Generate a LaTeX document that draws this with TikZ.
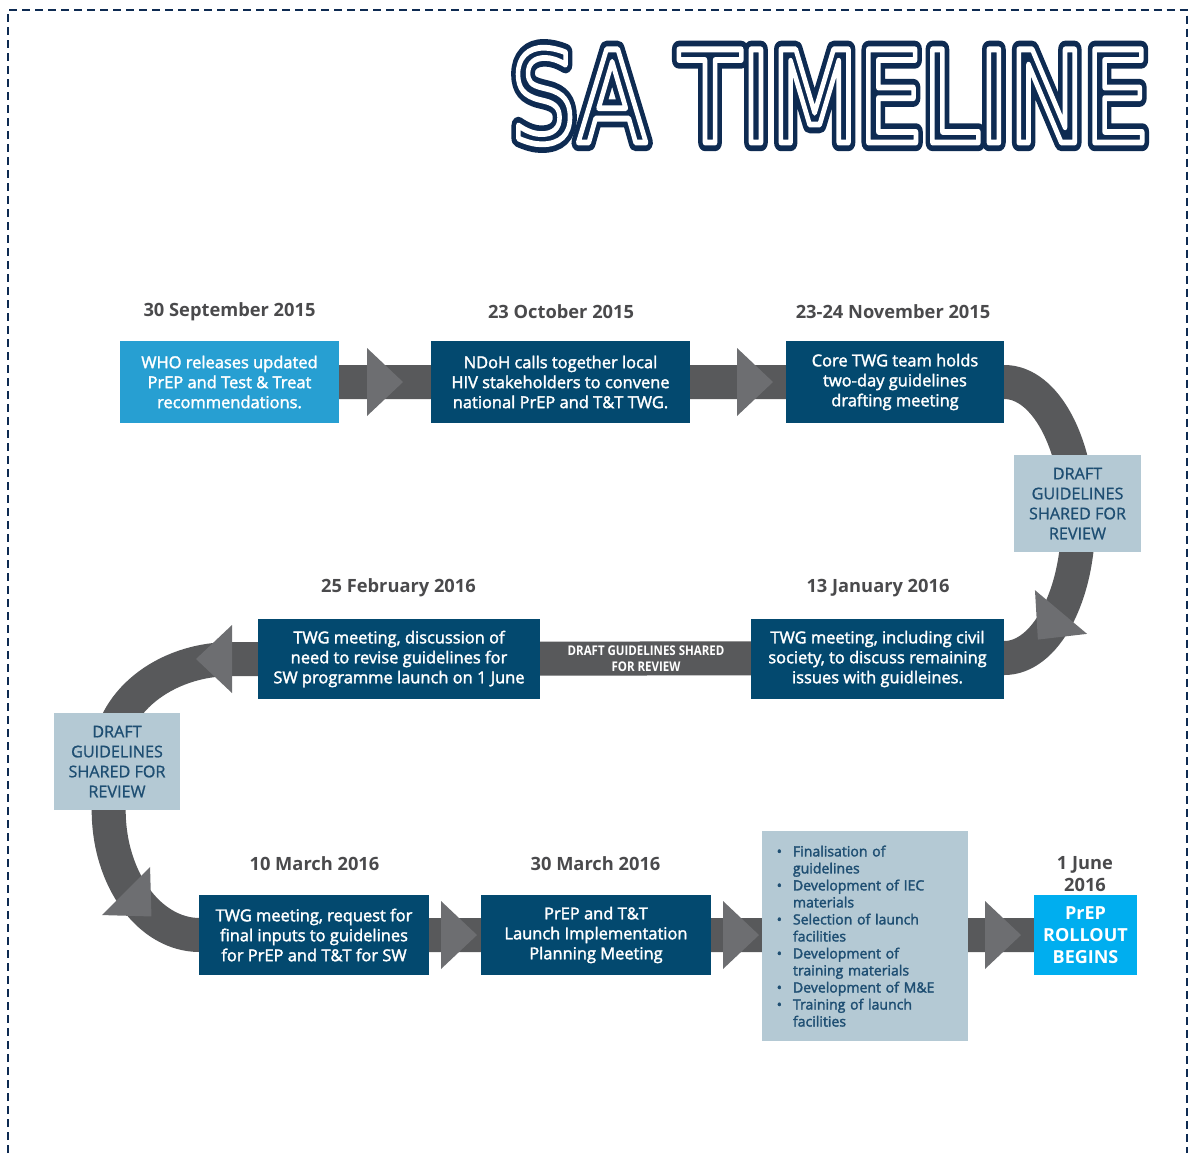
\documentclass[tikz,border=0pt]{standalone}
\usepackage{fontspec}
\usepackage{xcolor}
\usetikzlibrary{backgrounds}
\setmainfont{Open Sans}
\newfontfamily\titlefont{DejaVu Sans}
\newfontfamily\semifont{Open Sans}[FakeBold=2]
\newfontfamily\draftfont{Open Sans}[FakeBold=1]

\definecolor{skyblue}{HTML}{279FD2}
\definecolor{deepnavy}{HTML}{03496F}
\definecolor{paleblue}{HTML}{B4C9D4}
\definecolor{brightcyan}{HTML}{00AEEF}
\definecolor{trackgray}{HTML}{58595B}
\definecolor{headgray}{HTML}{6D6E71}
\definecolor{dategray}{HTML}{4A4A4C}
\definecolor{draftnavy}{HTML}{1E4E72}
\definecolor{titlenavy}{HTML}{0E2B52}

% three parallel strokes for the heading letters
\newcommand{\triplelines}[1]{%
  \leavevmode\rlap{\color{titlenavy}\special{pdf:literal direct 2 Tr 13.5 w 1 j}#1\special{pdf:literal direct 0 Tr}}%
  {\color{white}\special{pdf:literal direct 1 Tr 4.5 w 1 j}#1\special{pdf:literal direct 0 Tr}}}

\tikzset{
  event/.style={fill=deepnavy, text=white, align=center, inner sep=0pt,
    minimum height=2cm, font=\semifont\fontsize{11.7}{14.2}\selectfont},
  date/.style={text=dategray, align=center, font=\bfseries\fontsize{13}{15.6}\selectfont},
  draft/.style={fill=paleblue, text=draftnavy, align=center, inner sep=0pt,
    minimum width=3.175cm, minimum height=2.425cm, font=\draftfont\fontsize{11.5}{14.2}\selectfont},
  tasks/.style={fill=paleblue, text=draftnavy, inner sep=0pt, text width=4.6cm,
    minimum width=5.15cm, minimum height=5.25cm, font=\semifont\fontsize{10}{12.1}\selectfont},
  track/.style={draw=trackgray, line width=0.85cm, line join=round},
  head/.style={fill=headgray}
}

\begin{document}
\begin{tikzpicture}[x=0.025cm, y=-0.025cm]
  \useasboundingbox (0,0) rectangle (1188,1153);
  % frame, open at the bottom
  \draw[titlenavy, line width=1.4pt, dash pattern=on 0.2cm off 0.125cm]
    (8,1153) -- (8,10) -- (1187,10) -- (1187,1153);
  % heading
  \node[inner sep=0pt] (heading) at (830,96)
    {\resizebox{15.93cm}{2.37cm}{\titlefont\fontsize{100}{100}\selectfont\triplelines{SA TIMELINE}}};

  % first row
  \node[date] (sep15) at (229.5,312) {30 September 2015};
  \node[date] (oct15) at (561,312) {23 October 2015};
  \node[date] (nov15) at (893,312) {23-24 November 2015};
  \node[event, fill=skyblue, minimum width=5.475cm, minimum height=2.05cm] (who) at (229.5,382)
    {WHO releases updated\\PrEP and Test \& Treat\\recommendations.};
  \node[event, minimum width=6.475cm, minimum height=2.05cm] (ndoh) at (560.5,382)
    {NDoH calls together local\\HIV stakeholders to convene\\national PrEP and T\&T TWG.};
  \node[event, minimum width=5.45cm, minimum height=2.05cm] (core) at (895,382)
    {Core TWG team holds\\two-day guidelines\\drafting meeting};
  \node[draft] (reviewA) at (1077.5,503.5) {DRAFT\\GUIDELINES\\SHARED FOR\\REVIEW};

  % second row
  \node[date] (jan16) at (878,588) {13 January 2016};
  \node[date] (feb16) at (398.5,588) {25 February 2016};
  \node[event, minimum width=6.325cm] (jan) at (877.5,659)
    {TWG meeting, including civil\\society, to discuss remaining\\issues with guidleines.};
  \node[event, minimum width=7.05cm] (feb) at (399,659)
    {TWG meeting, discussion of\\need to revise guidelines for\\SW programme launch on 1 June};
  \node[text=white, align=center, inner sep=0pt, font=\bfseries\fontsize{9.5}{11.4}\selectfont] (shared) at (646,659)
    {\scalebox{0.86}[1]{DRAFT GUIDELINES SHARED}\\\scalebox{0.86}[1]{FOR REVIEW}};
  \node[draft, minimum width=3.15cm] (reviewB) at (117,761.5) {DRAFT\\GUIDELINES\\SHARED FOR\\REVIEW};

  % third row
  \node[date] (mar10) at (314.5,864) {10 March 2016};
  \node[date] (mar30) at (595.5,864) {30 March 2016};
  \node[date] (jun16) at (1085,874) {1 June\\2016};
  \node[event, minimum width=5.75cm] (inputs) at (314,935)
    {TWG meeting, request for\\final inputs to guidelines\\for PrEP and T\&T for SW};
  \node[event, minimum width=5.75cm] (planning) at (596,935)
    {PrEP and T\&T\\Launch Implementation\\Planning Meeting};
  \node[tasks] (todo) at (865,936) {%
    \vspace*{-0.15cm}
    \begin{list}{\textbullet}{\setlength{\leftmargin}{0.5cm}\setlength{\labelsep}{0.275cm}%
      \setlength{\labelwidth}{0.225cm}\setlength{\itemsep}{0pt}\setlength{\topsep}{0pt}%
      \setlength{\parsep}{0pt}\setlength{\partopsep}{0pt}}
    \item Finalisation of\newline guidelines
    \item Development of IEC\newline materials
    \item Selection of launch\newline facilities
    \item Development of\newline training materials
    \item Development of M\&E
    \item Training of launch\newline facilities
    \end{list}};
  \node[event, fill=brightcyan, minimum width=2.575cm, font=\bfseries\fontsize{12.8}{15.6}\selectfont] (rollout) at (1085.5,935)
    {PrEP\\ROLLOUT\\BEGINS};

  % grey track behind the boxes
  \begin{scope}[on background layer]
    \draw[track] (who.center) -- (core.east)
      arc[start angle=-90, end angle=90, x radius=74, y radius=138]
      -- (feb.west) -- ++(-26,0)
      arc[start angle=-90, end angle=-180, x radius=123, y radius=100]
      -- ++(0,51)
      arc[start angle=180, end angle=90, x radius=91, y radius=125]
      -- (rollout.center);
    % arrow heads on the track
    \foreach \x/\y/\a in {367/382/0, 737/382/0, 1061/612/-130, 232/659/180,
                          126/891/-45, 441/935/0, 723/935/0, 985/935/0}
      \fill[head, shift={(\x,\y)}, rotate=\a] (0,-34) -- (36,0) -- (0,34) -- cycle;
  \end{scope}
\end{tikzpicture}
\end{document}
